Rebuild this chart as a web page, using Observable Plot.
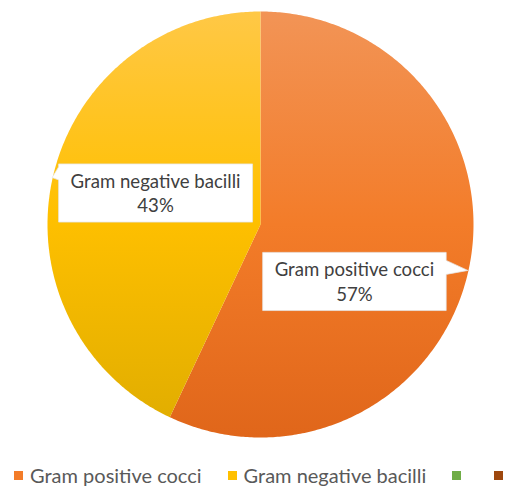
<!DOCTYPE html>
<html><head><meta charset="utf-8">
<script src="https://cdn.jsdelivr.net/npm/d3@7"></script>
<script src="https://cdn.jsdelivr.net/npm/@observablehq/plot@0.6"></script>
<style>
body{margin:0;background:#fff;font-family:Lato,"Liberation Sans",sans-serif;}
#chart{width:506px;}
.legend{display:flex;align-items:center;height:50px;padding-left:14px;font-size:20px;color:#595959;white-space:nowrap;font-family:Lato,sans-serif;}
.legend .sw{display:inline-block;width:9px;height:9px;margin-right:7px;}
.legend .item{display:flex;align-items:center;margin-right:26px;}
</style></head>
<body><div id="chart"></div>
<script>
const categories = ["Gram positive cocci", "Gram negative bacilli", "", ""];
const values = [57, 43, 0, 0];
const labels = ["Gram positive cocci\n57%", "Gram negative bacilli\n43%"];
const colors = ["#F37C29", "#FFC000", "#70AD47", "#9E480E"];
const gradients = [["#F29456", "#F37C29", "#E0661A"], ["#FFC846", "#FFC000", "#E2AE00"]];
const labelOffsets = [[-10, 33], [-1, -9]]; // px nudges from mid-radius anchor

const pie = d3.pie().sort(null).value(d => d.value)(categories.map((c, i) => ({c, value: values[i], i})));
const slices = pie.filter(p => p.value > 0);
function pts(p) {
  const out = [{x: 0, y: 0}];
  const n = Math.max(2, Math.ceil((p.endAngle - p.startAngle) / 0.01));
  for (let k = 0; k <= n; k++) {
    const a = p.startAngle + (p.endAngle - p.startAngle) * k / n;
    out.push({x: Math.sin(a), y: Math.cos(a)});
  }
  out.push({x: 0, y: 0});
  return out;
}
const marks = slices.map(p => Plot.line(pts(p), {x: "x", y: "y", fill: `url(#grad${p.data.i})`, stroke: "none"}));
const labelData = slices.map(p => {
  const m = (p.startAngle + p.endAngle) / 2;
  return {x: 0.5 * Math.sin(m), y: 0.5 * Math.cos(m), tx: Math.sin(m), ty: Math.cos(m), text: labels[p.data.i], i: p.data.i};
});
marks.push(Plot.text(labelData, {x: "x", y: "y", text: "text", fill: "#404040", fontSize: 18.6, lineHeight: 1.3, className: "lbl"}));

const plot = Plot.plot({
  width: 506, height: 450,
  marginLeft: 47, marginRight: 33, marginTop: 11, marginBottom: 13,
  x: {domain: [-1, 1], axis: null},
  y: {domain: [-1, 1], axis: null},
  style: {fontFamily: "Lato, 'Liberation Sans', sans-serif", background: "#fff"},
  marks
});
const svg = d3.select(plot);
const defs = svg.insert("defs", ":first-child");
gradients.forEach((g, i) => {
  const lg = defs.append("linearGradient").attr("id", "grad" + i).attr("x1", 0).attr("y1", 0).attr("x2", 0).attr("y2", 1);
  g.forEach((c, k) => lg.append("stop").attr("offset", k / (g.length - 1)).attr("stop-color", c));
});
document.getElementById("chart").appendChild(plot);

const xs = plot.scale("x"), ys = plot.scale("y");
svg.selectAll("g.lbl text").each(function(d, j) {
  const t = d3.select(this);
  const off = labelOffsets[labelData[j].i];
  const cur = t.attr("transform") || "";
  t.attr("transform", cur + ` translate(${off[0]},${off[1]})`);
});
const g = svg.insert("g", "g.lbl");
svg.selectAll("g.lbl text").each(function(d, j) {
  const bb = this.getBBox();
  const ctm = this.getCTM();
  const x0 = bb.x + ctm.e - 12, x1 = bb.x + bb.width + ctm.e + 12;
  const y0 = bb.y + ctm.f - 6, y1 = bb.y + bb.height + ctm.f + 6;
  const ld = labelData[j];
  const tx = xs.apply(ld.tx), ty = ys.apply(ld.ty);
  let path;
  if (tx > x1) {
    const ya = y0 + 8, yb = y0 + 22;
    path = `M${x0},${y0}H${x1}V${ya}L${tx},${ty}L${x1},${yb}V${y1}H${x0}Z`;
  } else {
    const ya = y0 + 3, yb = y0 + 16;
    path = `M${x0},${y0}H${x1}V${y1}H${x0}V${yb}L${tx},${ty}L${x0},${ya}Z`;
  }
  g.append("path").attr("d", path).attr("fill", "#fff").attr("stroke", "#e6e6e6").attr("stroke-width", 0.75);
});

const leg = d3.select("#chart").append("div").attr("class", "legend");
categories.forEach((c, i) => {
  const it = leg.append("div").attr("class", "item");
  it.append("span").attr("class", "sw").style("background", colors[i]);
  it.append("span").text(c);
});
</script></body></html>
